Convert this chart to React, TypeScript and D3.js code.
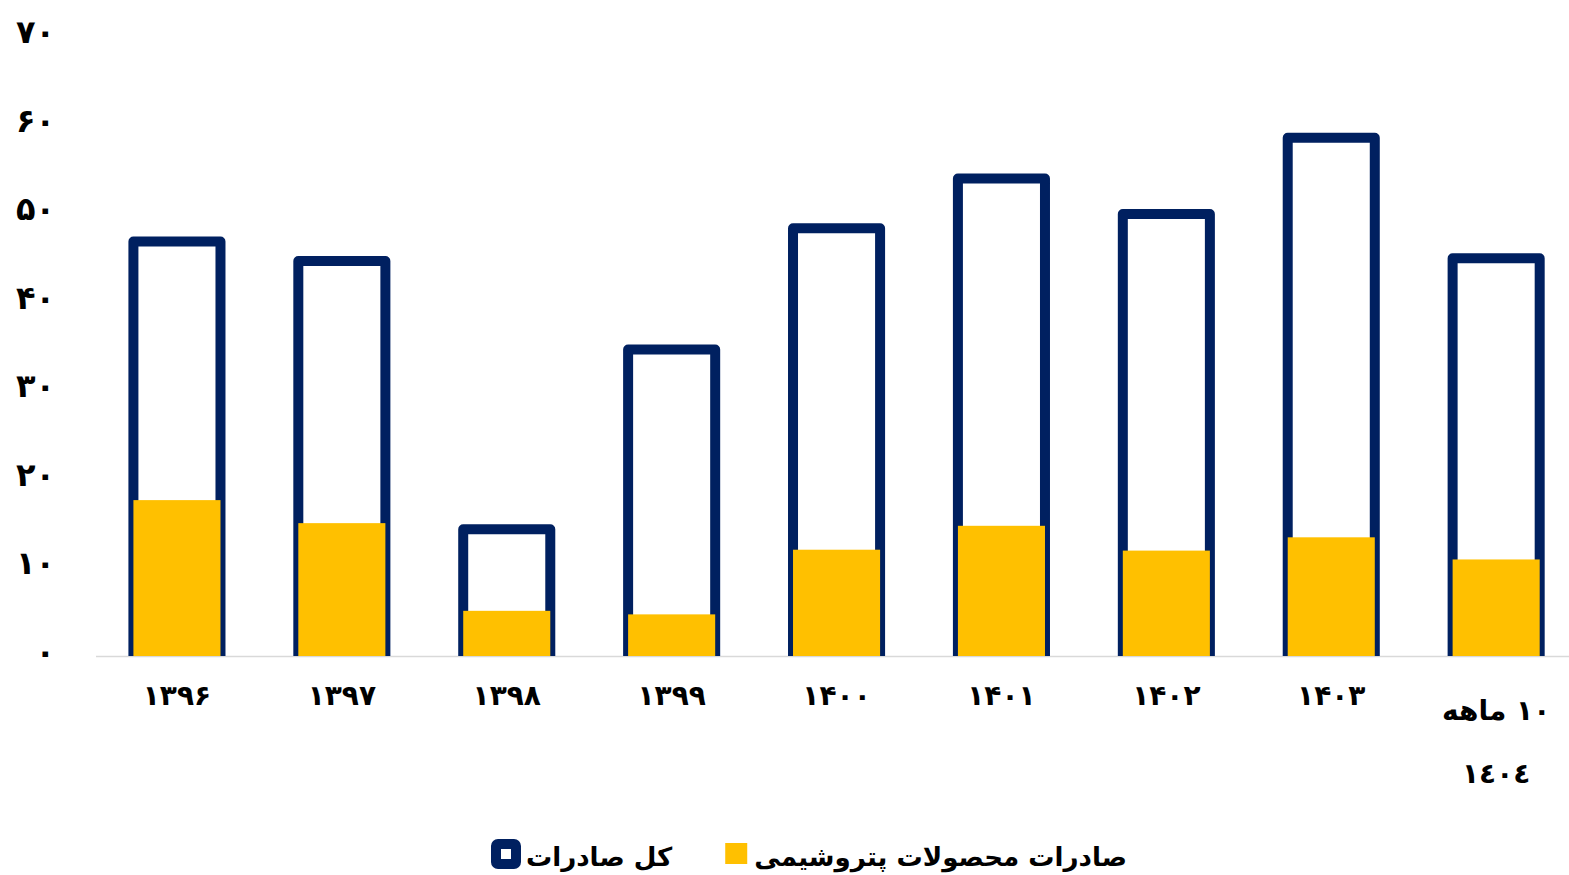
import { useRef, useEffect } from 'react'
import * as d3 from 'd3'

// categories (years), last one is split in two lines
const categories = ['۱۳۹۶', '۱۳۹۷', '۱۳۹۸', '۱۳۹۹', '۱۴۰۰', '۱۴۰۱', '۱۴۰۲', '۱۴۰۳', '۱۰ ماهه ١٤٠٤']
const categoryLines = [['۱۳۹۶'], ['۱۳۹۷'], ['۱۳۹۸'], ['۱۳۹۹'], ['۱۴۰۰'], ['۱۴۰۱'], ['۱۴۰۲'], ['۱۴۰۳'], ['۱۰ ماهه', '١٤٠٤']]

const totalExports = [46.8, 44.6, 14.3, 34.6, 48.3, 53.9, 49.9, 58.5, 44.9]
const petroExports = [17.6, 15.0, 5.1, 4.7, 12.0, 14.7, 11.9, 13.4, 10.9]

const yTicks = [0, 10, 20, 30, 40, 50, 60, 70]
const yTickLabels = ['۰', '۱۰', '۲۰', '۳۰', '۴۰', '۵۰', '۶۰', '۷۰']

const legendTotal = 'کل صادرات'
const legendPetro = 'صادرات محصولات پتروشیمی'

const NAVY = '#002060'
const GOLD = '#FFC000'
const FONT = '"DejaVu Sans", sans-serif'

export default function App() {
  const svgRef = useRef<SVGSVGElement>(null)
  const width = 1569
  const height = 875

  useEffect(() => {
    if (!svgRef.current) return
    const svg = d3.select(svgRef.current)
    svg.selectAll('*').remove()

    const x = d3.scaleBand<string>()
      .domain(categories)
      .range([94.5, 1578.6])
      .paddingInner(0.472)
      .paddingOuter(0.236)
    const y = d3.scaleLinear().domain([0, 70]).range([656, 36])
    const bw = x.bandwidth()

    // baseline
    svg.append('line')
      .attr('x1', 96).attr('x2', width)
      .attr('y1', y(0) + 0.5).attr('y2', y(0) + 0.5)
      .attr('stroke', '#d9d9d9')
      .attr('stroke-width', 1.5)

    // total exports: outlined bars (open at the bottom)
    svg.selectAll('.total')
      .data(totalExports)
      .join('path')
      .attr('class', 'total')
      .attr('d', (d, i) => {
        const x0 = x(categories[i]) ?? 0
        const x1 = x0 + bw
        return `M${x0},${y(0)}L${x0},${y(d)}L${x1},${y(d)}L${x1},${y(0)}`
      })
      .attr('fill', '#fff')
      .attr('stroke', NAVY)
      .attr('stroke-width', 10)
      .attr('stroke-linejoin', 'round')

    // petrochemical exports: filled bars on top
    svg.selectAll('.petro')
      .data(petroExports)
      .join('rect')
      .attr('class', 'petro')
      .attr('x', (_, i) => x(categories[i]) ?? 0)
      .attr('y', (d) => y(d))
      .attr('width', bw)
      .attr('height', (d) => y(0) - y(d))
      .attr('fill', GOLD)

    // y axis labels
    svg.selectAll('.ylab')
      .data(yTicks)
      .join('text')
      .attr('class', 'ylab')
      .attr('x', 55)
      .attr('y', (d) => y(d) + 7)
      .attr('text-anchor', 'end')
      .attr('font-family', FONT)
      .attr('font-weight', 'bold')
      .attr('font-size', 32)
      .attr('fill', '#000')
      .text((_, i) => yTickLabels[i])

    // x axis labels
    categoryLines.forEach((lines, i) => {
      const cx = (x(categories[i]) ?? 0) + bw / 2
      const t = svg.append('text')
        .attr('text-anchor', 'middle')
        .attr('direction', 'rtl')
        .attr('font-family', FONT)
        .attr('font-weight', 'bold')
        .attr('font-size', 28)
        .attr('fill', '#000')
      if (lines.length === 1) {
        t.attr('x', cx).attr('y', 705).text(lines[0])
      } else {
        lines.forEach((ln, j) => {
          t.append('tspan').attr('x', cx).attr('y', 720 + j * 63).text(ln)
        })
      }
    })

    // legend, laid out from measured text widths
    const lg = svg.append('g')
    const addText = (s: string) => lg.append('text')
      .attr('y', 866)
      .attr('font-family', FONT)
      .attr('font-weight', 'bold')
      .attr('font-size', 28)
      .attr('fill', '#000')
      .text(s)
    const tTotal = addText(legendTotal)
    const tPetro = addText(legendPetro)
    const w0 = (tPetro.node() as SVGTextElement).getComputedTextLength()
    const fs = Math.max(22, Math.min(30, 28 * 373 / w0))
    tTotal.attr('font-size', fs)
    tPetro.attr('font-size', fs)
    const wTotal = (tTotal.node() as SVGTextElement).getComputedTextLength()
    const wPetro = (tPetro.node() as SVGTextElement).getComputedTextLength()
    const total = 30 + 5 + wTotal + 53 + 22 + 7 + wPetro
    let cx = 809 - total / 2
    lg.insert('rect', 'text')
      .attr('x', cx + 5).attr('y', 844).attr('width', 20).attr('height', 20)
      .attr('rx', 2)
      .attr('fill', '#fff')
      .attr('stroke', NAVY)
      .attr('stroke-width', 10)
    cx += 35
    tTotal.attr('x', cx)
    cx += wTotal + 53
    lg.insert('rect', 'text')
      .attr('x', cx).attr('y', 843).attr('width', 22).attr('height', 21)
      .attr('fill', GOLD)
    cx += 29
    tPetro.attr('x', cx)
  }, [])

  return (
    <svg
      ref={svgRef}
      width={width}
      height={height}
      style={{ position: 'absolute', left: 0, top: 0, background: '#fff' }}
    />
  )
}
